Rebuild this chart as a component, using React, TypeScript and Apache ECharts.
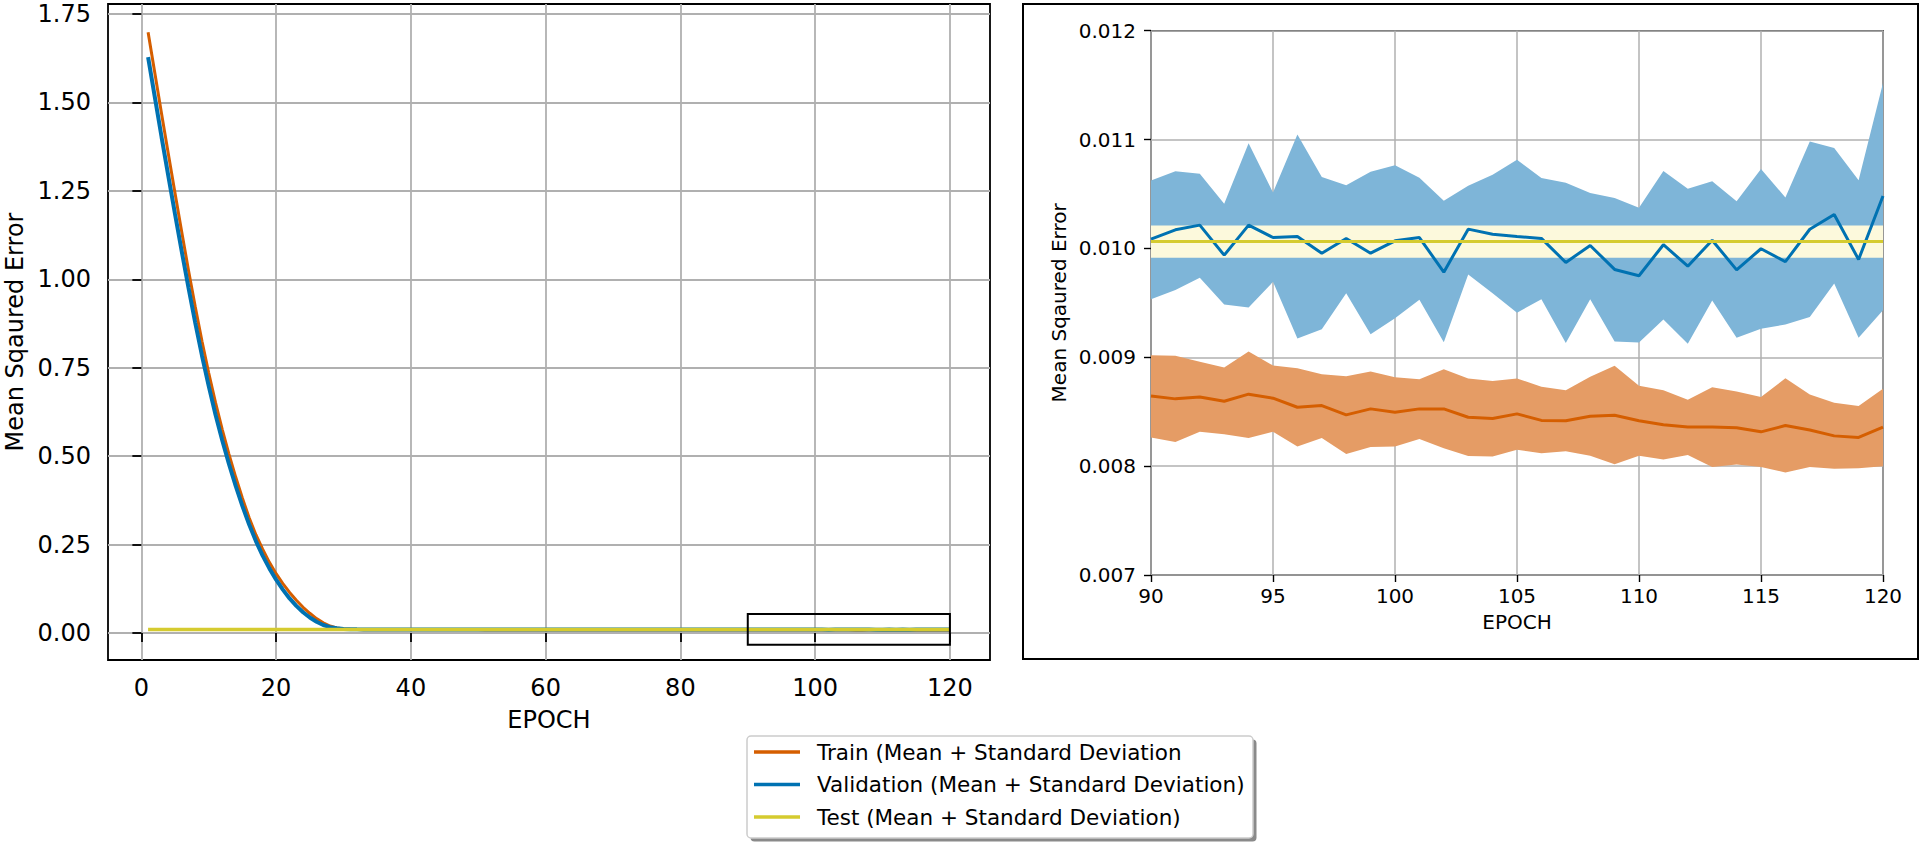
import React, { useEffect, useRef } from "react";
import * as echarts from "echarts";

// ---------- DATA ----------
const epochsAll = Array.from({ length: 120 }, (_, i) => i + 1);
const zoomEpochs = Array.from({ length: 31 }, (_, i) => 90 + i);

const leftXTicks = [0, 20, 40, 60, 80, 100, 120];
const leftYTicks = [0, 0.25, 0.5, 0.75, 1.0, 1.25, 1.5, 1.75];

// Train mean, epochs 1..89
const trainEarly = [
  1.698, 1.583, 1.468, 1.355, 1.243, 1.133, 1.025, 0.922, 0.825, 0.735,
  0.652, 0.576, 0.506, 0.441, 0.381, 0.326, 0.278, 0.237, 0.2, 0.168,
  0.14, 0.115, 0.093, 0.073, 0.056, 0.041, 0.029, 0.02, 0.0145, 0.0118,
  0.0106, 0.01,
  0.00975, 0.00969, 0.00963, 0.00959, 0.00953, 0.0095, 0.00945, 0.00942, 0.00938, 0.00935,
  0.00931, 0.00929, 0.00926, 0.00922, 0.00921, 0.00918, 0.00915, 0.00914, 0.00911, 0.00909,
  0.00907, 0.00906, 0.00903, 0.00902, 0.009, 0.00898, 0.00897, 0.00894, 0.00894, 0.00891,
  0.0089, 0.00889, 0.00887, 0.00887, 0.00884, 0.00883, 0.00883, 0.0088, 0.00879, 0.00879,
  0.00877, 0.00876, 0.00875, 0.00873, 0.00873, 0.00871, 0.0087, 0.0087, 0.00868, 0.00868,
  0.00867, 0.00866, 0.00866, 0.00865, 0.00866, 0.00864, 0.00865,
];

// Validation mean, epochs 1..89
const valEarly = [
  1.628, 1.515, 1.402, 1.292, 1.184, 1.078, 0.976, 0.877, 0.784, 0.698,
  0.618, 0.545, 0.478, 0.416, 0.359, 0.307, 0.26, 0.219, 0.183, 0.151,
  0.123, 0.098, 0.077, 0.059, 0.044, 0.032, 0.023, 0.017, 0.0135, 0.0118,
  0.011, 0.0106,
  0.01045, 0.0104, 0.01036, 0.01038, 0.01031, 0.01034, 0.01027, 0.0103, 0.01024, 0.01028,
  0.01022, 0.01026, 0.01019, 0.01025, 0.01021, 0.01017, 0.01024, 0.01018, 0.01015, 0.01022,
  0.01012, 0.01019, 0.01014, 0.01021, 0.0101, 0.01016, 0.01018, 0.01009, 0.01015, 0.0102,
  0.01008, 0.01014, 0.01017, 0.01006, 0.01013, 0.01019, 0.01009, 0.01012, 0.01016, 0.01004,
  0.01011, 0.01018, 0.01007, 0.01013, 0.0101, 0.01015, 0.01005, 0.01012, 0.01017, 0.01008,
  0.01011, 0.01014, 0.01006, 0.01013, 0.01009, 0.01016, 0.0101,
];

// Epochs 90..120 (zoomed panel)
const trainMean = [
  0.008645, 0.008618, 0.008636, 0.008596, 0.008661, 0.008624, 0.008541, 0.008556, 0.008471, 0.008526,
  0.008495, 0.008526, 0.008526, 0.008449, 0.008437, 0.00848, 0.00842, 0.008417, 0.008458, 0.008468,
  0.008417, 0.00838, 0.008359, 0.008359, 0.008353, 0.008315, 0.008373, 0.008332, 0.008278, 0.008264,
  0.008359,
];
const trainUpper = [
  0.009019, 0.009013, 0.008958, 0.008906, 0.009053, 0.008924, 0.0089, 0.008844, 0.008826, 0.008869,
  0.008817, 0.008798, 0.00889, 0.008805, 0.008783, 0.008806, 0.008729, 0.008698, 0.00882, 0.008922,
  0.008739, 0.008698, 0.00861, 0.008725, 0.008685, 0.008634, 0.008807, 0.008658, 0.008583, 0.008553,
  0.008712,
];
const trainLower = [
  0.008262, 0.008222, 0.008317, 0.008293, 0.008259, 0.008317, 0.00818, 0.008259, 0.008112, 0.008176,
  0.00818, 0.00825, 0.008164, 0.008094, 0.008088, 0.00815, 0.008119, 0.008136, 0.008095, 0.008017,
  0.008095, 0.008061, 0.008102, 0.007993, 0.008014, 0.007993, 0.007942, 0.007993, 0.007976, 0.00798,
  0.008,
];
const valMean = [
  0.010085, 0.010171, 0.010214, 0.009938, 0.010214, 0.0101, 0.01011, 0.009956, 0.010091, 0.009956,
  0.01007, 0.0101, 0.009782, 0.010177, 0.010131, 0.01011, 0.010092, 0.009871, 0.010027, 0.009807,
  0.009749, 0.010034, 0.009837, 0.010075, 0.009803, 0.009997, 0.009878, 0.010176, 0.010312, 0.009898,
  0.010481,
];
const valUpper = [
  0.010624, 0.01071, 0.010686, 0.01041, 0.010967, 0.010514, 0.011047, 0.010655, 0.010581, 0.010704,
  0.010765, 0.010649, 0.010437, 0.010575, 0.010676, 0.010814, 0.010647, 0.010603, 0.010508, 0.010464,
  0.010373, 0.010712, 0.010549, 0.010617, 0.010434, 0.010729, 0.010468, 0.010983, 0.010922, 0.010627,
  0.01152,
];
const valLower = [
  0.009534, 0.009619, 0.00973, 0.009485, 0.009457, 0.009693, 0.009172, 0.009258, 0.009589, 0.009212,
  0.009359, 0.009528, 0.009139, 0.00976, 0.009589, 0.00941, 0.009532, 0.009132, 0.009532, 0.009146,
  0.009136, 0.009346, 0.009125, 0.009522, 0.00918, 0.009261, 0.009302, 0.009369, 0.009678, 0.00918,
  0.009431,
];
const testMean = 0.010063;
const testStd = 0.000148;

const insetBox = { x0: 90, x1: 120, y0: -0.033, y1: 0.054 };

const legendLabels = [
  "Train (Mean + Standard Deviation",
  "Validation (Mean + Standard Deviation)",
  "Test (Mean + Standard Deviation)",
];

// ---------- STYLE ----------
const TRAIN = "#d55e00";
const VAL = "#0072b2";
const TEST = "#d5cb2f";
const TRAIN_FILL = "#e59c65";
const VAL_FILL = "#7eb5d8";
const TEST_FILL = "#fcf9dc";
const GRIDC = "#b0b0b0";
const FONT = "DejaVu Sans";

function band(xIdx: number, lower: number[], upper: number[], color: string, z: number) {
  return {
    type: "custom",
    xAxisIndex: xIdx,
    yAxisIndex: xIdx,
    z,
    silent: true,
    data: [[zoomEpochs[0], lower[0]]],
    encode: { x: 0, y: 1 },
    renderItem: (_p: any, api: any) => {
      const pts: number[][] = [];
      for (let i = 0; i < zoomEpochs.length; i++) pts.push(api.coord([zoomEpochs[i], upper[i]]));
      for (let i = zoomEpochs.length - 1; i >= 0; i--) pts.push(api.coord([zoomEpochs[i], lower[i]]));
      return { type: "polygon", shape: { points: pts }, style: { fill: color, stroke: "none" } };
    },
  };
}

export default function App() {
  const ref = useRef<HTMLDivElement>(null);
  useEffect(() => {
    document.body.style.margin = "0";
    if (!ref.current) return;
    const chart = echarts.init(ref.current, undefined, { renderer: "svg" });

    const trainAll = [...trainEarly, ...trainMean];
    const valAll = [...valEarly, ...valMean];
    const testLower = zoomEpochs.map(() => testMean - testStd);
    const testUpper = zoomEpochs.map(() => testMean + testStd);

    const legendChildren: any[] = [
      {
        type: "rect",
        shape: { x: 750.5, y: 739.5, width: 506, height: 102, r: 4 },
        style: { fill: "#8a8a8a" },
      },
      {
        type: "rect",
        shape: { x: 747, y: 736, width: 506, height: 102, r: 4 },
        style: { fill: "#ffffff", stroke: "#cccccc", lineWidth: 1.5 },
      },
    ];
    const rowY = [752, 784.5, 817];
    const cols = [TRAIN, VAL, TEST];
    legendLabels.forEach((lab, i) => {
      legendChildren.push({
        type: "line",
        shape: { x1: 754, y1: rowY[i], x2: 800, y2: rowY[i] },
        style: { stroke: cols[i], lineWidth: 3.5 },
      });
      legendChildren.push({
        type: "text",
        x: 817,
        y: rowY[i],
        style: {
          text: lab,
          fill: "#000",
          font: `21.5px "${FONT}"`,
          verticalAlign: "middle",
          align: "left",
        },
      });
    });

    const option: any = {
      animation: false,
      textStyle: { fontFamily: FONT },
      grid: [
        {
          left: 108, top: 4, width: 882, height: 656,
          show: true, borderColor: "#000", borderWidth: 1.8, backgroundColor: "transparent",
        },
        {
          left: 1151, top: 30.7, width: 732, height: 544.3,
          show: true, borderColor: "#000", borderWidth: 1.4, backgroundColor: "transparent",
        },
      ],
      xAxis: [
        {
          type: "value", gridIndex: 0, min: -4.95, max: 125.95,
          name: "EPOCH", nameLocation: "middle", nameGap: 48,
          nameTextStyle: { fontSize: 24, color: "#000", fontFamily: FONT },
          axisLine: { show: false },
          axisTick: { show: true, length: 9, customValues: leftXTicks, lineStyle: { color: "#000", width: 1.8 } },
          axisLabel: { customValues: leftXTicks, fontSize: 24, color: "#000", margin: 16, fontFamily: FONT },
          splitLine: { show: true, lineStyle: { color: GRIDC, width: 1.8 } },
        },
        {
          type: "value", gridIndex: 1, min: 90, max: 120, interval: 5,
          name: "EPOCH", nameLocation: "middle", nameGap: 37,
          nameTextStyle: { fontSize: 20, color: "#000", fontFamily: FONT },
          axisLine: { show: false },
          axisTick: { show: true, length: 7, lineStyle: { color: "#000", width: 1.4 } },
          axisLabel: { fontSize: 20, color: "#000", margin: 11, fontFamily: FONT },
          splitLine: { show: true, lineStyle: { color: GRIDC, width: 1.5 } },
        },
      ],
      yAxis: [
        {
          type: "value", gridIndex: 0, min: -0.076, max: 1.778,
          name: "Mean Sqaured Error", nameLocation: "middle", nameGap: 81,
          nameTextStyle: { fontSize: 24, color: "#000", fontFamily: FONT },
          axisLine: { show: false },
          axisTick: { show: true, length: 9, customValues: leftYTicks, lineStyle: { color: "#000", width: 1.8 } },
          axisLabel: {
            customValues: leftYTicks, fontSize: 24, color: "#000", margin: 17, fontFamily: FONT,
            formatter: (v: number) => v.toFixed(2),
          },
          splitLine: { show: true, lineStyle: { color: GRIDC, width: 1.8 } },
        },
        {
          type: "value", gridIndex: 1, min: 0.007, max: 0.012, interval: 0.001,
          name: "Mean Sqaured Error", nameLocation: "middle", nameGap: 82,
          nameTextStyle: { fontSize: 20, color: "#000", fontFamily: FONT },
          axisLine: { show: false },
          axisTick: { show: true, length: 7, lineStyle: { color: "#000", width: 1.4 } },
          axisLabel: {
            fontSize: 20, color: "#000", margin: 15, fontFamily: FONT,
            formatter: (v: number) => v.toFixed(3),
          },
          splitLine: { show: true, lineStyle: { color: GRIDC, width: 1.5 } },
        },
      ],
      series: [
        // left panel
        {
          type: "line", xAxisIndex: 0, yAxisIndex: 0, z: 4, symbol: "none", silent: true,
          data: epochsAll.map((e, i) => [e, trainAll[i]]),
          lineStyle: { color: TRAIN, width: 3 },
        },
        {
          type: "line", xAxisIndex: 0, yAxisIndex: 0, z: 5, symbol: "none", silent: true,
          data: epochsAll.map((e, i) => [e, valAll[i]]),
          lineStyle: { color: VAL, width: 4 },
        },
        {
          type: "line", xAxisIndex: 0, yAxisIndex: 0, z: 6, symbol: "none", silent: true,
          data: epochsAll.map((e) => [e, testMean]),
          lineStyle: { color: TEST, width: 3.5 },
        },
        {
          type: "custom", xAxisIndex: 0, yAxisIndex: 0, z: 7, silent: true,
          data: [[insetBox.x0, insetBox.y0]],
          encode: { x: 0, y: 1 },
          renderItem: (_p: any, api: any) => {
            const a = api.coord([insetBox.x0, insetBox.y1]);
            const b = api.coord([insetBox.x1, insetBox.y0]);
            return {
              type: "rect",
              shape: { x: a[0], y: a[1], width: b[0] - a[0], height: b[1] - a[1] },
              style: { fill: "none", stroke: "#000", lineWidth: 2 },
            };
          },
        },
        // right panel
        band(1, valLower, valUpper, VAL_FILL, 1),
        band(1, trainLower, trainUpper, TRAIN_FILL, 2),
        band(1, testLower, testUpper, TEST_FILL, 3),
        {
          type: "line", xAxisIndex: 1, yAxisIndex: 1, z: 4, symbol: "none", silent: true,
          data: zoomEpochs.map((e, i) => [e, trainMean[i]]),
          lineStyle: { color: TRAIN, width: 3 },
        },
        {
          type: "line", xAxisIndex: 1, yAxisIndex: 1, z: 5, symbol: "none", silent: true,
          data: zoomEpochs.map((e, i) => [e, valMean[i]]),
          lineStyle: { color: VAL, width: 3 },
        },
        {
          type: "line", xAxisIndex: 1, yAxisIndex: 1, z: 6, symbol: "none", silent: true,
          data: zoomEpochs.map((e) => [e, testMean]),
          lineStyle: { color: TEST, width: 3 },
        },
      ],
      graphic: [
        {
          type: "rect", silent: true, z: 10,
          shape: { x: 1023, y: 4, width: 895, height: 655 },
          style: { fill: "none", stroke: "#000", lineWidth: 2 },
        },
        { type: "group", silent: true, z: 20, children: legendChildren },
      ],
    };
    chart.setOption(option);
    return () => chart.dispose();
  }, []);
  return <div ref={ref} style={{ width: 1920, height: 845 }} />;
}
